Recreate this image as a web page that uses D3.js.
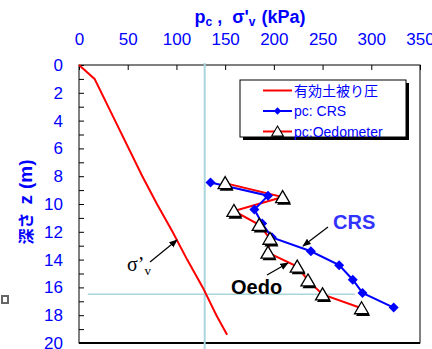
<!DOCTYPE html>
<html>
<head>
<meta charset="utf-8">
<script src="https://cdn.jsdelivr.net/npm/d3@7"></script>
<style>
  body { margin: 0; background: #fff; }
  svg { display: block; font-family: "Liberation Sans", Arial, sans-serif; }
</style>
</head>
<body>
<svg id="chart" width="432" height="349"></svg>
<script>
// effective overburden pressure (sigma'v) vs depth
const svDepth = [0, 1, 4, 8, 10, 12, 14, 16, 18, 19.4];
const svStress = [0, 16, 37, 65, 80, 96, 111, 127, 141, 152];

// pc from CRS tests
const crsDepth = [8.45, 9.4, 10.4, 11.4, 12.4, 13.4, 14.4, 15.45, 16.4, 17.45];
const crsPc = [135, 194, 180, 188, 198, 238, 267, 281, 291, 323];

// pc from oedometer tests
const oedDepth = [8.5, 9.5, 10.5, 11.5, 12.5, 13.5, 14.5, 15.5, 16.5, 17.5];
const oedPc = [150, 209, 159, 185, 196, 194, 224, 235, 250, 290];

const xTicks = [0, 50, 100, 150, 200, 250, 300, 350];
const yTicks = [0, 2, 4, 6, 8, 10, 12, 14, 16, 18, 20];

// reference guide lines
const guideX = 129;
const guideZ = 16.5;

const svg = d3.select('#chart');
const blue = '#0000ff';
const red = '#ff0000';

const x = d3.scaleLinear().domain([0, 350]).range([79, 420]);
const y = d3.scaleLinear().domain([0, 20]).range([65, 343]);

// arrow marker
svg.append('defs').append('marker')
    .attr('id', 'arrow')
    .attr('viewBox', '0 0 10 10')
    .attr('refX', 9).attr('refY', 5)
    .attr('markerWidth', 7).attr('markerHeight', 7)
    .attr('orient', 'auto')
    .append('path')
    .attr('d', 'M0,1 L10,5 L0,9 Z')
    .attr('fill', '#000');

// frame
svg.append('rect')
    .attr('x', x(0)).attr('y', y(0))
    .attr('width', x(350) - x(0)).attr('height', y(20) - y(0))
    .attr('fill', 'none').attr('stroke', '#000').attr('stroke-width', 1);
svg.append('line')
    .attr('x1', x(0)).attr('x2', x(350))
    .attr('y1', y(20)).attr('y2', y(20))
    .attr('stroke', '#000').attr('stroke-width', 2);

// top axis
const xAxis = d3.axisTop(x).tickValues(xTicks).tickSizeInner(-5).tickSizeOuter(0);
const gx = svg.append('g').attr('transform', `translate(0,${y(0)})`).call(xAxis);
gx.select('.domain').remove();
gx.selectAll('text').attr('fill', blue).attr('font-size', 17)
    .attr('dy', 0).attr('y', 45 - y(0));

// left axis, minor ticks every metre
const yAxis = d3.axisLeft(y).tickValues(d3.range(0, 21, 1)).tickSizeInner(-5).tickSizeOuter(0)
    .tickFormat(d => yTicks.includes(d) ? d : '');
const gy = svg.append('g').attr('transform', `translate(${x(0)},0)`).call(yAxis);
gy.select('.domain').remove();
gy.selectAll('text').attr('fill', blue).attr('font-size', 17).attr('x', 63 - x(0));
gx.selectAll('line').attr('stroke', '#000');
gy.selectAll('line').attr('stroke', '#000');

// axis titles
const title = svg.append('text')
    .attr('x', 250).attr('y', 23)
    .attr('text-anchor', 'middle')
    .attr('fill', blue).attr('font-weight', 'bold').attr('font-size', 18);
title.append('tspan').text('p');
title.append('tspan').attr('font-size', 12).attr('dy', 3).text('c');
title.append('tspan').attr('dy', -3).attr('xml:space', 'preserve').text(' ,  σ\'');
title.append('tspan').attr('font-size', 12).attr('dy', 3).text('v');
title.append('tspan').attr('dy', -3).attr('dx', 6).text('(kPa)');

const yt = svg.append('text')
    .attr('transform', 'translate(32,202) rotate(-90)')
    .attr('text-anchor', 'middle')
    .attr('fill', blue).attr('font-weight', 'bold').attr('font-size', 19);
yt.append('tspan')
    .style('font-family', '"Noto Sans CJK JP", sans-serif')
    .attr('font-size', 16)
    .text('深さ');
yt.append('tspan').attr('dx', 8).text('z');
yt.append('tspan').attr('dx', 6).text('(m)');

// guide lines
svg.append('line')
    .attr('x1', x(guideX)).attr('x2', x(guideX))
    .attr('y1', y(0) - 2).attr('y2', 349)
    .attr('stroke', '#a9d6de').attr('stroke-width', 2);
svg.append('line')
    .attr('x1', x(9)).attr('x2', x(283))
    .attr('y1', y(guideZ)).attr('y2', y(guideZ))
    .attr('stroke', '#a9d6de').attr('stroke-width', 1.5);

// sigma'v line
const line = d3.line().x(d => x(d[0])).y(d => y(d[1]));
svg.append('path')
    .datum(svStress.map((s, i) => [s, svDepth[i]]))
    .attr('d', line)
    .attr('fill', 'none').attr('stroke', red).attr('stroke-width', 2);

// pc lines
const oed = oedPc.map((p, i) => [p, oedDepth[i]]);
const crs = crsPc.map((p, i) => [p, crsDepth[i]]);

svg.append('path').datum(oed).attr('d', line)
    .attr('fill', 'none').attr('stroke', red).attr('stroke-width', 2);
svg.append('path').datum(crs).attr('d', line)
    .attr('fill', 'none').attr('stroke', blue).attr('stroke-width', 2);

// CRS diamonds
const diamond = d3.symbol().type(d3.symbolDiamond2).size(64);
svg.append('g').selectAll('path')
    .data(crs)
    .enter()
    .append('path')
    .attr('d', diamond)
    .attr('transform', d => `translate(${x(d[0])},${y(d[1])})`)
    .attr('fill', blue);

// oedometer triangles with shadow
const tri = 'M0,-6.5 L7,5.5 L-7,5.5 Z';
const tg = svg.append('g').selectAll('g')
    .data(oed)
    .enter()
    .append('g')
    .attr('transform', d => `translate(${x(d[0])},${y(d[1])})`);
tg.append('path').attr('d', tri).attr('transform', 'translate(1.5,2.2)').attr('fill', '#000');
tg.append('path').attr('d', tri).attr('fill', '#fff').attr('stroke', '#000').attr('stroke-width', 1.3);

// annotations
const sv = svg.append('text')
    .attr('x', 127).attr('y', 271)
    .attr('font-family', '"Liberation Serif", "Times New Roman", serif')
    .attr('font-size', 20).attr('fill', '#000');
sv.append('tspan').text('σ’');
sv.append('tspan').attr('font-size', 13).attr('dy', 4).text('v');
svg.append('line')
    .attr('x1', 150).attr('y1', 262).attr('x2', 177).attr('y2', 240)
    .attr('stroke', '#000').attr('stroke-width', 1.2).attr('marker-end', 'url(#arrow)');

svg.append('text')
    .attr('x', 333).attr('y', 229)
    .attr('font-size', 20).attr('font-weight', 'bold').attr('fill', '#3333ff')
    .text('CRS');
svg.append('line')
    .attr('x1', 328).attr('y1', 227).attr('x2', 303).attr('y2', 246)
    .attr('stroke', '#000').attr('stroke-width', 1.2).attr('marker-end', 'url(#arrow)');

svg.append('text')
    .attr('x', 231).attr('y', 294)
    .attr('font-size', 20).attr('font-weight', 'bold').attr('fill', '#000')
    .text('Oedo');
svg.append('line')
    .attr('x1', 267).attr('y1', 275).attr('x2', 288).attr('y2', 263)
    .attr('stroke', '#000').attr('stroke-width', 1.2).attr('marker-end', 'url(#arrow)');

// legend
const lg = svg.append('g').attr('transform', 'translate(240,80)');
lg.append('rect').attr('x', 3).attr('y', 3).attr('width', 166).attr('height', 57).attr('fill', '#000');
lg.append('rect').attr('width', 166).attr('height', 57).attr('fill', '#fff').attr('stroke', '#000');

const legendItems = [
    {label: '有効土被り圧', color: red, mark: null},
    {label: 'pc: CRS', color: blue, mark: 'diamond'},
    {label: 'pc:Oedometer', color: red, mark: 'tri'}
];
legendItems.forEach((d, i) => {
    const ry = 10.5 + i * 20.5;
    lg.append('line').attr('x1', 23).attr('x2', 52).attr('y1', ry).attr('y2', ry)
        .attr('stroke', d.color).attr('stroke-width', 2);
    if (d.mark === 'diamond') {
        lg.append('path').attr('d', d3.symbol().type(d3.symbolDiamond2).size(35))
            .attr('transform', `translate(37.5,${ry})`).attr('fill', blue);
    } else if (d.mark === 'tri') {
        const t = lg.append('g').attr('transform', `translate(37.5,${ry}) scale(0.85)`);
        t.append('path').attr('d', tri).attr('transform', 'translate(1,1.5)').attr('fill', '#000');
        t.append('path').attr('d', tri).attr('fill', '#fff').attr('stroke', '#000').attr('stroke-width', 1.3);
    }
    lg.append('text').attr('x', 54).attr('y', ry + 5)
        .attr('font-size', 14).attr('fill', blue)
        .style('font-family', '"Liberation Sans", "Noto Sans CJK JP", sans-serif')
        .text(d.label);
});

// small marker at left edge
svg.append('rect').attr('x', 2).attr('y', 296).attr('width', 6).attr('height', 7)
    .attr('fill', '#fff').attr('stroke', '#666').attr('stroke-width', 2);
</script>
</body>
</html>
